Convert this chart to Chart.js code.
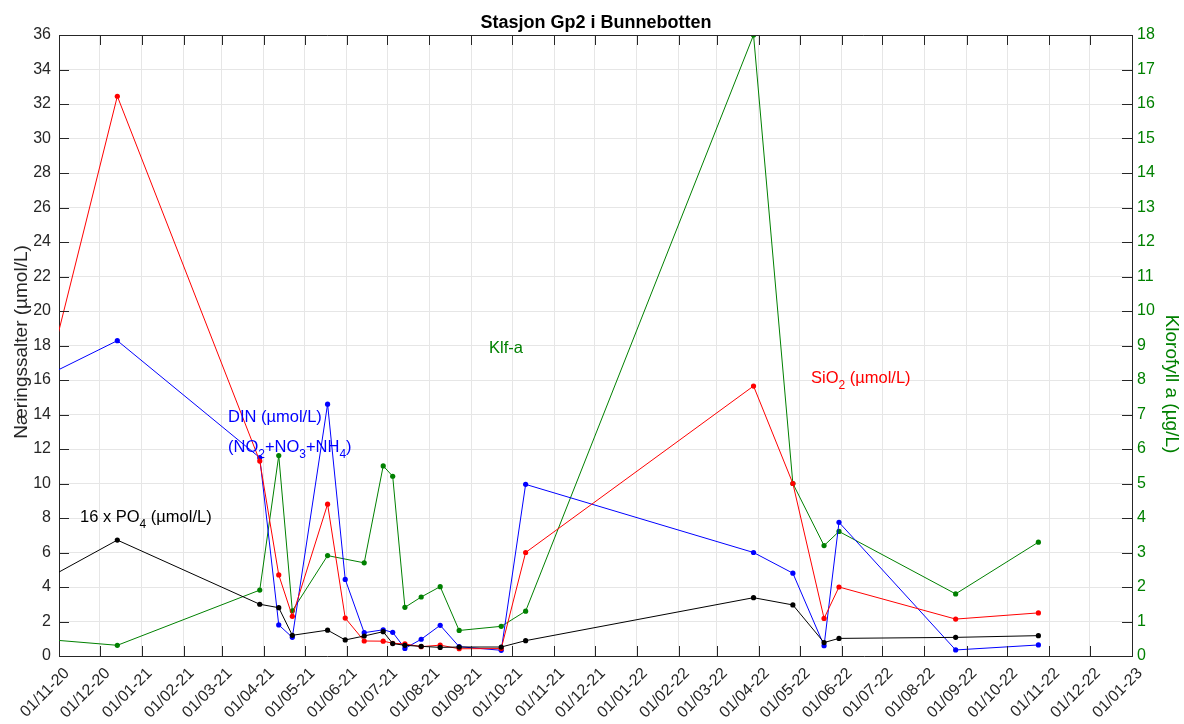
<!DOCTYPE html>
<html>
<head>
<meta charset="utf-8">
<script src="https://cdn.jsdelivr.net/npm/chart.js@4"></script>
<style>
  html, body { margin: 0; padding: 0; background: #fff; }
  #wrap { width: 1184px; height: 724px; }
</style>
</head>
<body>
<div id="wrap"><canvas id="chart" width="1184" height="724"></canvas></div>
<script>
/*=================================
      data
=================================*/
const sampleDates = [
  "2020-10-20", "2020-12-14", "2021-03-29", "2021-04-12", "2021-04-22",
  "2021-05-18", "2021-05-31", "2021-06-14", "2021-06-28", "2021-07-05",
  "2021-07-14", "2021-07-26", "2021-08-09", "2021-08-23", "2021-09-23",
  "2021-10-11", "2022-03-28", "2022-04-26", "2022-05-19", "2022-05-30",
  "2022-08-24", "2022-10-24",
];
// µmol/L
const sio2 = [15.1, 32.45, 11.3, 4.7, 2.3, 8.8, 2.2, 0.87, 0.86, 0.74, 0.7,
  0.54, 0.63, 0.42, 0.43, 6.0, 15.65, 10.0, 2.18, 4.0, 2.14, 2.5];
const din = [16.14, 18.28, 11.5, 1.8, 1.08, 14.6, 4.44, 1.35, 1.52, 1.37, 0.44,
  0.97, 1.78, 0.54, 0.33, 9.95, 6.0, 4.8, 0.6, 7.75, 0.35, 0.64];
const po4x16 = [4.35, 6.72, 3.0, 2.8, 1.2, 1.5, 0.93, 1.16, 1.41, 0.72, 0.62,
  0.56, 0.5, 0.52, 0.52, 0.89, 3.38, 2.96, 0.78, 1.02, 1.08, 1.18];
// µg/L (right axis)
const klfa = [0.49, 0.31, 1.91, 5.81, 1.31, 2.91, null, 2.7, 5.51, 5.21, 1.41,
  1.71, 2.01, 0.74, 0.86, 1.3, 18.0, 5.0, 3.2, 3.61, 1.8, 3.3];

const monthTicks = [
  "2020-11-01", "2020-12-01", "2021-01-01", "2021-02-01", "2021-03-01",
  "2021-04-01", "2021-05-01", "2021-06-01", "2021-07-01", "2021-08-01",
  "2021-09-01", "2021-10-01", "2021-11-01", "2021-12-01", "2022-01-01",
  "2022-02-01", "2022-03-01", "2022-04-01", "2022-05-01", "2022-06-01",
  "2022-07-01", "2022-08-01", "2022-09-01", "2022-10-01", "2022-11-01",
  "2022-12-01", "2023-01-01",
];

const FONT = "'Liberation Sans', Arial, sans-serif";
const GREEN = "#008000";
const AXIS = "#262626";

function toMs(s) {
  const p = s.split("-");
  return Date.UTC(+p[0], +p[1] - 1, +p[2]);
}
function fmtDate(v) {
  const d = new Date(v);
  const dd = String(d.getUTCDate()).padStart(2, "0");
  const mm = String(d.getUTCMonth() + 1).padStart(2, "0");
  const yy = String(d.getUTCFullYear()).slice(2);
  return dd + "/" + mm + "-" + yy;
}
function points(values) {
  const out = [];
  for (let i = 0; i < sampleDates.length; i++) {
    if (values[i] !== null) out.push({ x: toMs(sampleDates[i]), y: values[i] });
  }
  return out;
}
function series(label, values, color, axis, order) {
  return {
    label: label,
    data: points(values),
    yAxisID: axis,
    borderColor: color,
    backgroundColor: color,
    borderWidth: 1,
    pointRadius: 2.6,
    pointBorderWidth: 0,
    tension: 0,
    order: order,
  };
}

/*=================================
      text with subscripts
=================================*/
function drawRich(ctx, x, y, parts, color, size) {
  ctx.fillStyle = color;
  ctx.textBaseline = "alphabetic";
  ctx.textAlign = "left";
  parts.forEach((p) => {
    if (p.sub) {
      ctx.font = Math.round(size * 0.75) + "px " + FONT;
      ctx.fillText(p.t, x, y + size * 0.38);
    } else {
      ctx.font = size + "px " + FONT;
      ctx.fillText(p.t, x, y);
    }
    x += ctx.measureText(p.t).width;
  });
}

const decorations = {
  id: "decorations",
  afterDraw(chart) {
    const ctx = chart.ctx;
    const a = chart.chartArea;
    const sx = chart.scales.x;
    const sy = chart.scales.y;
    const sy1 = chart.scales.y1;
    ctx.save();

    // box top edge
    ctx.strokeStyle = AXIS;
    ctx.lineWidth = 1;
    ctx.beginPath();
    ctx.moveTo(a.left, a.top + 0.5);
    ctx.lineTo(a.right, a.top + 0.5);
    ctx.stroke();

    // inward tick marks
    const len = 10;
    ctx.beginPath();
    sx.ticks.forEach((t) => {
      const px = Math.round(sx.getPixelForValue(t.value)) + 0.5;
      ctx.moveTo(px, a.bottom);
      ctx.lineTo(px, a.bottom - len);
      ctx.moveTo(px, a.top);
      ctx.lineTo(px, a.top + len);
    });
    sy.ticks.forEach((t) => {
      const py = Math.round(sy.getPixelForValue(t.value)) + 0.5;
      ctx.moveTo(a.left, py);
      ctx.lineTo(a.left + len, py);
    });
    sy1.ticks.forEach((t) => {
      const py = Math.round(sy1.getPixelForValue(t.value)) + 0.5;
      ctx.moveTo(a.right, py);
      ctx.lineTo(a.right - len, py);
    });
    ctx.stroke();

    // title
    ctx.fillStyle = "#000";
    ctx.font = "bold 18px " + FONT;
    ctx.textAlign = "center";
    ctx.textBaseline = "alphabetic";
    ctx.fillText("Stasjon Gp2 i Bunnebotten", 596, 28);

    // axis titles
    ctx.font = "19px " + FONT;
    ctx.fillStyle = AXIS;
    ctx.save();
    ctx.translate(22, 342);
    ctx.rotate(-Math.PI / 2);
    ctx.textBaseline = "middle";
    ctx.fillText("Næringssalter (µmol/L)", 0, 0);
    ctx.restore();

    ctx.fillStyle = GREEN;
    ctx.save();
    ctx.translate(1171, 384);
    ctx.rotate(Math.PI / 2);
    ctx.textBaseline = "middle";
    ctx.fillText("Klorofyll a (µg/L)", 0, 0);
    ctx.restore();

    // series labels
    drawRich(ctx, 489, 353, [{ t: "Klf-a" }], GREEN, 16.5);
    drawRich(ctx, 811, 383, [{ t: "SiO" }, { t: "2", sub: true }, { t: " (µmol/L)" }], "#ff0000", 16.5);
    drawRich(ctx, 228, 422, [{ t: "DIN (µmol/L)" }], "#0000ff", 16.5);
    drawRich(ctx, 228, 452, [{ t: "(NO" }, { t: "2", sub: true }, { t: "+NO" }, { t: "3", sub: true },
      { t: "+NH" }, { t: "4", sub: true }, { t: ")" }], "#0000ff", 16.5);
    drawRich(ctx, 80, 522, [{ t: "16 x PO" }, { t: "4", sub: true }, { t: " (µmol/L)" }], "#000", 16.5);

    ctx.restore();
  },
};

/*=================================
      chart
=================================*/
new Chart("chart", {
  type: "line",
  data: {
    datasets: [
      series("16 x PO4", po4x16, "#000000", "y", 0),
      series("SiO2", sio2, "#ff0000", "y", 1),
      series("DIN", din, "#0000ff", "y", 2),
      series("Klf-a", klfa, GREEN, "y1", 3),
    ],
  },
  options: {
    responsive: false,
    devicePixelRatio: 1,
    animation: false,
    layout: { padding: { top: 35, left: 0, right: 0, bottom: 0 } },
    plugins: {
      legend: { display: false },
      tooltip: { enabled: false },
      title: { display: false },
    },
    scales: {
      x: {
        type: "linear",
        min: toMs(monthTicks[0]),
        max: toMs(monthTicks[monthTicks.length - 1]),
        afterBuildTicks: (s) => {
          s.ticks = monthTicks.map((m) => ({ value: toMs(m) }));
        },
        afterFit: (s) => {
          s.height = 68;
        },
        ticks: {
          autoSkip: false,
          minRotation: 45,
          maxRotation: 45,
          padding: 8,
          labelOffset: 8,
          color: AXIS,
          font: { family: FONT, size: 16 },
          callback: (v) => fmtDate(v),
        },
        grid: { color: "#e6e6e6", drawTicks: false },
        border: { color: AXIS },
      },
      y: {
        position: "left",
        min: 0,
        max: 36,
        afterFit: (s) => {
          s.width = 59;
        },
        ticks: {
          stepSize: 2,
          padding: 8,
          color: AXIS,
          font: { family: FONT, size: 16 },
        },
        grid: { color: "#e6e6e6", drawTicks: false },
        border: { color: AXIS },
      },
      y1: {
        position: "right",
        min: 0,
        max: 18,
        afterFit: (s) => {
          s.width = 52;
        },
        ticks: {
          stepSize: 1,
          padding: 5,
          color: GREEN,
          font: { family: FONT, size: 16 },
        },
        grid: { drawOnChartArea: false, drawTicks: false },
        border: { color: AXIS },
      },
    },
  },
  plugins: [decorations],
});
</script>
</body>
</html>
